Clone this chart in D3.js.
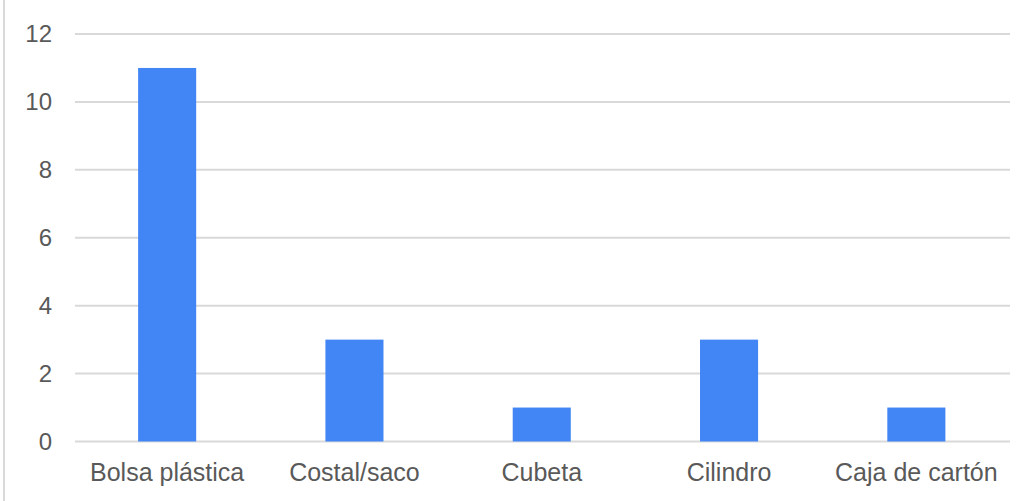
<!DOCTYPE html>
<html><head><meta charset="utf-8">
<script src="https://cdn.jsdelivr.net/npm/d3@7"></script>
<style>body{margin:0;background:#fff;}svg{display:block;}</style>
</head><body>
<svg id="c" width="1029" height="501"></svg>
<script>
const categories = ["Bolsa plástica","Costal/saco","Cubeta","Cilindro","Caja de cartón"];
const values = [11,3,1,3,1];
const yTicks = [0,2,4,6,8,10,12];

const svg = d3.select("#c");
const x = d3.scaleBand().domain(categories).range([73.5,1010]).paddingInner(0.69).paddingOuter(0.345);
const y = d3.scaleLinear().domain([0,12]).range([441.5,34]);

svg.append("line").attr("x1",4).attr("x2",4).attr("y1",0).attr("y2",501)
  .attr("stroke","#d9d9d9").attr("stroke-width",2);

const yAxis = d3.axisLeft(y).tickValues(yTicks).tickSize(0).tickPadding(0);
const gy = svg.append("g").attr("transform","translate(52,0)").call(yAxis);
gy.select(".domain").remove();
gy.selectAll("text").attr("font-family","Liberation Sans, Arial, sans-serif").attr("font-size",24).attr("fill","#595959");

svg.append("g").selectAll("line").data(yTicks).join("line")
  .attr("x1",75).attr("x2",1010).attr("y1",d=>y(d)).attr("y2",d=>y(d))
  .attr("stroke","#d9d9d9").attr("stroke-width",2);

svg.append("g").selectAll("rect").data(values).join("rect")
  .attr("x",(d,i)=>x(categories[i])).attr("width",x.bandwidth())
  .attr("y",d=>y(d)).attr("height",d=>y(0)-y(d)).attr("fill","#4285f4");

const xAxis = d3.axisBottom(x).tickSize(0).tickPadding(0);
const gx = svg.append("g").attr("transform","translate(0,463)").call(xAxis);
gx.select(".domain").remove();
gx.selectAll("text").attr("font-family","Liberation Sans, Arial, sans-serif").attr("font-size",25).attr("fill","#595959");
</script>
</body></html>
